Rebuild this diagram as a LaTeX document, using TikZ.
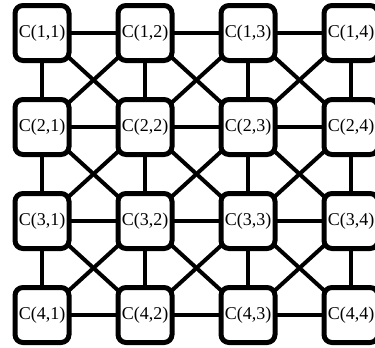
\documentclass[tikz,border=0pt]{standalone}
\usepackage{fontspec}
\setmainfont{Liberation Serif}
\begin{document}
\begin{tikzpicture}[x=1pt,y=-1pt,
  cell/.style={draw=black, line width=5pt, fill=white, rounded corners=8pt,
    minimum width=54pt, minimum height=55pt, inner sep=0pt,
    font=\fontsize{18}{20}\selectfont},
  link/.style={draw=black, line width=4pt}]
\useasboundingbox (0,0) rectangle (375,348);
% coordinates of cell centres
\foreach \r/\y in {1/33,2/127,3/221,4/315}{
  \foreach \c/\x in {1/42,2/145,3/248,4/351}{
    \coordinate (p\r\c) at (\x,\y);
  }
}
% horizontal links
\foreach \r in {1,2,3,4}{
  \foreach \c/\d in {1/2,2/3,3/4}{
    \draw[link] (p\r\c) -- (p\r\d);
  }
}
% vertical links
\foreach \r/\s in {1/2,2/3,3/4}{
  \foreach \c in {1,2,3,4}{
    \draw[link] (p\r\c) -- (p\s\c);
  }
}
% diagonal links
\foreach \r/\s in {1/2,2/3,3/4}{
  \foreach \c/\d in {1/2,2/3,3/4}{
    \draw[link] (p\r\c) -- (p\s\d);
    \draw[link] (p\r\d) -- (p\s\c);
  }
}
% cells
\foreach \r in {1,2,3,4}{
  \foreach \c in {1,2,3,4}{
    \node[cell] (c\r\c) at (p\r\c) {C(\r,\c)};
  }
}
\end{tikzpicture}
\end{document}
